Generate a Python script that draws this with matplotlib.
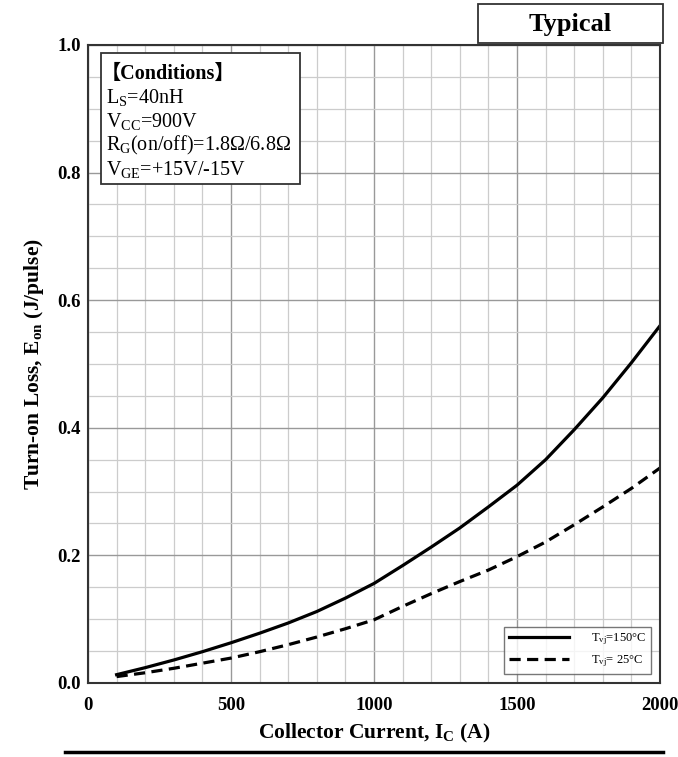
import matplotlib
matplotlib.use("Agg")
import matplotlib.pyplot as plt
from matplotlib.patches import Rectangle
from matplotlib.lines import Line2D
from matplotlib.ticker import MultipleLocator, FormatStrFormatter

plt.rcParams['font.family'] = ['Liberation Serif', 'Noto Sans CJK JP']
plt.rcParams['mathtext.fontset'] = 'custom'
plt.rcParams['mathtext.rm'] = 'Liberation Serif'
plt.rcParams['mathtext.it'] = 'Liberation Serif'
plt.rcParams['mathtext.bf'] = 'Liberation Serif:bold'

# turn-on loss vs collector current
ic = [100, 200, 300, 400, 500, 600, 700, 800, 900, 1000,
      1100, 1200, 1300, 1400, 1500, 1600, 1700, 1800, 1900, 2000]
eon_150 = [0.013, 0.024, 0.036, 0.049, 0.063, 0.078, 0.094, 0.112, 0.133, 0.156,
           0.184, 0.213, 0.243, 0.276, 0.310, 0.350, 0.397, 0.447, 0.502, 0.560]
eon_25 = [0.010, 0.016, 0.023, 0.031, 0.039, 0.049, 0.060, 0.072, 0.085, 0.099,
          0.120, 0.140, 0.159, 0.177, 0.198, 0.221, 0.248, 0.276, 0.305, 0.337]

fig = plt.figure(figsize=(6.78, 7.57), dpi=100)
ax = fig.add_axes([0.1298, 0.0978, 0.8437, 0.8428])

ax.plot(ic, eon_150, color='black', lw=2.3, label=r'T$_{vj}$=150°C')
ax.plot(ic, eon_25, color='black', lw=2.3, ls=(0, (3.5, 2)), label=r'T$_{vj}$= 25°C')

ax.set_xlim(0, 2000)
ax.set_ylim(0, 1.0)
ax.xaxis.set_major_locator(MultipleLocator(500))
ax.xaxis.set_minor_locator(MultipleLocator(100))
ax.yaxis.set_major_locator(MultipleLocator(0.2))
ax.yaxis.set_minor_locator(MultipleLocator(0.05))
ax.yaxis.set_major_formatter(FormatStrFormatter('%.1f'))
ax.grid(which='major', color='#999999', lw=1.0)
ax.grid(which='minor', color='#cccccc', lw=0.9)
ax.set_axisbelow(True)
ax.tick_params(which='both', length=0, labelsize=13.5)
ax.tick_params(axis='y', pad=5)
ax.tick_params(axis='x', pad=10)
for lab in ax.get_xticklabels() + ax.get_yticklabels():
    lab.set_fontweight('bold')
for sp in ax.spines.values():
    sp.set_color('#333333')
    sp.set_linewidth(1.5)

ax.set_xlabel(r'Collector Current, I$_\mathbf{C}$ (A)', fontsize=15.5,
              fontweight='bold', labelpad=6)
ax.set_ylabel(r'Turn-on Loss, E$_\mathbf{on}$ (J/pulse)', fontsize=15.5,
              fontweight='bold', labelpad=8)

cond = ['\u3010Conditions\u3011', r'L$_\mathrm{S}$=40nH', r'V$_\mathrm{CC}$=900V',
        r'R$_\mathrm{G}$(on/off)=1.8Ω/6.8Ω', r'V$_\mathrm{GE}$=+15V/-15V']
ax.add_patch(Rectangle((0.0227, 0.782), 0.348, 0.205, transform=ax.transAxes,
                       facecolor='white', edgecolor='#333333', lw=1.3, zorder=3))
ax.text(0.022, 0.955, cond[0], transform=ax.transAxes, fontsize=14.5,
        fontweight='bold', va='center', zorder=4)
for i, line in enumerate(cond[1:]):
    ax.text(0.031, 0.917 - i * 0.0376, line, transform=ax.transAxes,
            fontsize=14.5, va='center', zorder=4)

leg = ax.legend(loc='lower right', fontsize=9, frameon=True, fancybox=False,
                edgecolor='#555555', handlelength=4.8, borderaxespad=0.7,
                handletextpad=1.8)
leg.get_frame().set_linewidth(1.0)

# header box and rule at the bottom
fig.patches.append(Rectangle((478 / 678, 1 - 43 / 757), 185 / 678, 39 / 757,
                             transform=fig.transFigure, facecolor='white',
                             edgecolor='#333333', lw=1.3))
fig.text(570 / 678, 1 - 24 / 757, 'Typical', fontsize=19, fontweight='bold',
         ha='center', va='center')
fig.lines.append(Line2D([65 / 678, 663 / 678], [1 - 752 / 757, 1 - 752 / 757],
                        transform=fig.transFigure, color='black', lw=2.5))

fig.savefig('out.png', dpi=100)
